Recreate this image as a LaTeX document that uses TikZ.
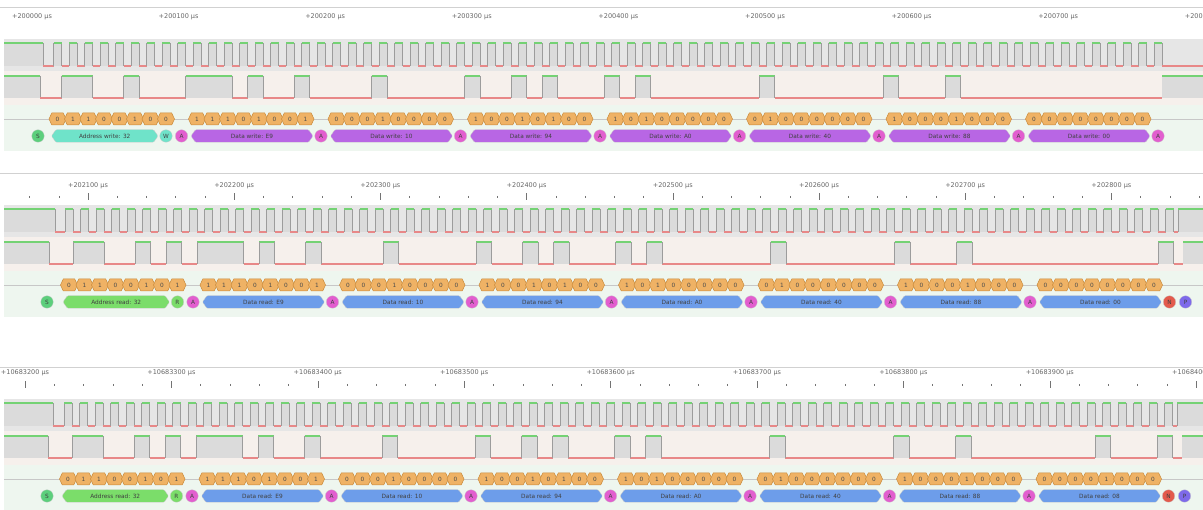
\documentclass[tikz,border=0pt]{standalone}
\usepackage{fontspec}
\setmainfont{DejaVu Sans}
\usetikzlibrary{shapes.symbols}

\definecolor{hiline}{HTML}{74D274}
\definecolor{loline}{HTML}{E88888}
\definecolor{flankline}{HTML}{9C9C9C}
\definecolor{clkband}{HTML}{E6E6E6}
\definecolor{datband}{HTML}{F6F0EC}
\definecolor{hifill}{HTML}{DBDBDB}
\definecolor{decband}{HTML}{EEF6EF}
\definecolor{bitfill}{HTML}{EFB265}
\definecolor{bitedge}{HTML}{C88A3C}
\definecolor{wraddr}{HTML}{6FE3C9}
\definecolor{rdaddr}{HTML}{7BDD6A}
\definecolor{wrdata}{HTML}{B866E4}
\definecolor{rddata}{HTML}{6D9DEA}
\definecolor{ackcol}{HTML}{E25ECF}
\definecolor{startcol}{HTML}{5CCF7C}
\definecolor{nakcol}{HTML}{E35A4C}
\definecolor{stopcol}{HTML}{7E6AEA}

\tikzset{
  hi/.style={hiline,line width=1.1pt},
  lo/.style={loline,line width=1.1pt},
  flank/.style={flankline,line width=0.6pt},
  rowline/.style={black!22,line width=0.6pt},
  sepline/.style={black!18,line width=0.8pt},
  tickline/.style={black!55,line width=0.5pt},
  stamp/.style={font=\fontsize{6.5}{7}\selectfont,text=black!60,inner sep=0pt},
  bit/.style={signal,signal to=east and west,signal pointer angle=130,
    fill=bitfill,draw=bitedge,line width=0.5pt,inner sep=0pt,
    minimum width=17pt,minimum height=12pt,
    font=\fontsize{5.8}{6}\selectfont,text=black!70},
  flag/.style={circle,inner sep=0pt,minimum size=12.5pt,draw=black!20,line width=0.3pt,
    font=\fontsize{5.8}{6}\selectfont,text=black!75},
  byteframe/.style={signal,signal to=east and west,signal pointer angle=110,
    inner sep=0pt,minimum height=12.5pt,rounded corners=1pt,draw=black!20,line width=0.3pt,
    font=\fontsize{5.8}{6}\selectfont,text=black!75},
  flagS/.style={fill=startcol},
  flagA/.style={fill=ackcol},
  flagN/.style={fill=nakcol},
  flagP/.style={fill=stopcol},
  flagW/.style={fill=wraddr},
  flagR/.style={fill=rdaddr}
}

% one capture: #1 name, #2 first bit centre, #3 SCL falls, #4 SDA falls, #5 SDA bits
\newcommand\busrow[5]{%
  \fill[clkband] (4,-4) rectangle (1203,28);
  \fill[datband] (4,28) rectangle (1203,62);
  \fill[decband] (4,62) rectangle (1203,108);
  \draw[rowline] (4,76) -- (1203,76);
  % SCL
  \fill[hifill] (4,0) rectangle (#3,23);
  \draw[hi] (4,0) -- (#3,0);
  \draw[flank] (#3,0) -- (#3,23);
  \draw[lo] (#3,23) -- ({#2-4},23);
  \foreach \k in {0,...,71}{
    \pgfmathsetmacro\xa{#2+15.5*\k-4}
    \pgfmathsetmacro\xb{#2+15.5*\k+4}
    \fill[hifill] (\xa,0) rectangle (\xb,23);
    \draw[flank] (\xa,23) -- (\xa,0) (\xb,0) -- (\xb,23);
    \draw[hi] (\xa,0) -- (\xb,0);
    \ifnum\k<71 \draw[lo] (\xb,23) -- ({\xb+7.5},23); \fi
  }
  % SDA and decoded bits
  \fill[hifill] (4,33) rectangle (#4,55);
  \draw[hi] (4,33) -- (#4,33);
  \draw[flank] (#4,33) -- (#4,55);
  \draw[lo] (#4,55) -- ({#2-11.5},55);
  \foreach \v [count=\k from 0, remember=\v as \prev (initially 0)] in {#5}{
    \pgfmathsetmacro\xa{#2+15.5*\k-11.5}
    \pgfmathsetmacro\xb{\xa+15.5}
    \ifnum\v=1
      \fill[hifill] (\xa,33) rectangle (\xb,55);
      \draw[hi] (\xa,33) -- (\xb,33);
    \else
      \draw[lo] (\xa,55) -- (\xb,55);
    \fi
    \ifnum\v=\prev\else \draw[flank] (\xa,33) -- (\xa,55); \fi
    \pgfmathtruncatemacro\pos{mod(\k,9)}
    \ifnum\pos<8
      \node[bit] (#1b\k) at ({#2+15.5*\k},76) {\v};
    \fi
  }
}

\begin{document}
\begin{tikzpicture}[x=1pt,y=-1pt]
\useasboundingbox (0,0) rectangle (1203,510);
\clip (0,0) rectangle (1203,510);

% write capture
\begin{scope}[shift={(0,43)}]
  \draw[sepline] (0,-36) -- (1203,-36);
  \foreach \i in {0,...,8}
    \node[stamp] (pt\i) at ({32+146.6*\i},-26) {+\the\numexpr2000+\i\relax00 µs};
  \busrow{p}{57.5}{43}{40}{0,1,1,0,0,1,0,0,0, 1,1,1,0,1,0,0,1,0, 0,0,0,1,0,0,0,0,0,
    1,0,0,1,0,1,0,0,0, 1,0,1,0,0,0,0,0,0, 0,1,0,0,0,0,0,0,0,
    1,0,0,0,1,0,0,0,0, 0,0,0,0,0,0,0,0,0}
  \draw[flank] (1162,33) -- (1162,55);
  \fill[hifill] (1162,33) rectangle (1203,55);
  \draw[hi] (1162,33) -- (1203,33);
  \draw[lo] (1162,23) -- (1203,23);
  \node[flag,flagS] (pS) at (38,93) {S};
  \node[byteframe,fill=wraddr,minimum width=106.5pt] (pAddr) at (104.75,93) {Address write: 32};
  \node[flag,flagW] (pW) at (166,93) {W};
  \node[flag,flagA] (pA0) at (181.5,93) {A};
  \foreach \d/\f [count=\j] in {E9/A,10/A,94/A,A0/A,40/A,88/A,00/A}{
    \pgfmathsetmacro\xs{57.5+139.5*\j}
    \node[byteframe,fill=wrdata,minimum width=122pt] (pD\j) at ({\xs+55},93) {Data write: \d};
    \node[flag,flag\f] (pA\j) at ({\xs+124},93) {\f};
  }
\end{scope}

% first read capture
\begin{scope}[shift={(0,209)}]
  \draw[sepline] (0,-36) -- (1203,-36);
  \foreach \i in {0,...,7}
    \node[stamp] (qt\i) at ({88+146.2*\i},-23) {+\the\numexpr2021+\i\relax00 µs};
  \foreach \m in {-2,...,38}{
    \pgfmathsetmacro\xt{88+29.24*\m}
    \pgfmathtruncatemacro\r{mod(\m+10,5)}
    \ifnum\r=0 \draw[tickline] (\xt,-15.5) -- (\xt,-9); \else \draw[tickline] (\xt,-13) -- (\xt,-11); \fi
  }
  \busrow{q}{69}{55}{49}{0,1,1,0,0,1,0,1,0, 1,1,1,0,1,0,0,1,0, 0,0,0,1,0,0,0,0,0,
    1,0,0,1,0,1,0,0,0, 1,0,1,0,0,0,0,0,0, 0,1,0,0,0,0,0,0,0,
    1,0,0,0,1,0,0,0,0, 0,0,0,0,0,0,0,0,1}
  \draw[flank] (1173.5,33) -- (1173.5,55) (1183,55) -- (1183,33);
  \draw[lo] (1173.5,55) -- (1183,55);
  \fill[hifill] (1183,33) rectangle (1203,55);
  \draw[hi] (1183,33) -- (1203,33);
  \draw[lo] (1173.5,23) -- (1178,23);
  \fill[hifill] (1178,0) rectangle (1203,23);
  \draw[flank] (1178,23) -- (1178,0);
  \draw[hi] (1178,0) -- (1203,0);
  \node[flag,flagS] (qS) at (47,93) {S};
  \node[byteframe,fill=rdaddr,minimum width=106.5pt] (qAddr) at (116.25,93) {Address read: 32};
  \node[flag,flagR] (qR) at (177.5,93) {R};
  \node[flag,flagA] (qA0) at (193,93) {A};
  \foreach \d/\f [count=\j] in {E9/A,10/A,94/A,A0/A,40/A,88/A,00/N}{
    \pgfmathsetmacro\xs{69+139.5*\j}
    \node[byteframe,fill=rddata,minimum width=122pt] (qD\j) at ({\xs+55},93) {Data read: \d};
    \node[flag,flag\f] (qA\j) at ({\xs+124},93) {\f};
  }
  \node[flag,flagP] (qP) at (1185.5,93) {P};
\end{scope}

% second read capture
\begin{scope}[shift={(0,403)}]
  \draw[sepline] (0,-36) -- (1203,-36);
  \foreach \i in {0,...,8}
    \node[stamp] (rt\i) at ({25+146.4*\i},-30) {+\the\numexpr106832+\i\relax00 µs};
  \foreach \m in {0,...,40}{
    \pgfmathsetmacro\xt{25+29.28*\m}
    \pgfmathtruncatemacro\r{mod(\m,5)}
    \ifnum\r=0 \draw[tickline] (\xt,-21.5) -- (\xt,-15); \else \draw[tickline] (\xt,-19) -- (\xt,-17); \fi
  }
  \busrow{r}{68}{53}{48}{0,1,1,0,0,1,0,1,0, 1,1,1,0,1,0,0,1,0, 0,0,0,1,0,0,0,0,0,
    1,0,0,1,0,1,0,0,0, 1,0,1,0,0,0,0,0,0, 0,1,0,0,0,0,0,0,0,
    1,0,0,0,1,0,0,0,0, 0,0,0,0,1,0,0,0,1}
  \draw[flank] (1172.5,33) -- (1172.5,55) (1182,55) -- (1182,33);
  \draw[lo] (1172.5,55) -- (1182,55);
  \fill[hifill] (1182,33) rectangle (1203,55);
  \draw[hi] (1182,33) -- (1203,33);
  \draw[lo] (1172.5,23) -- (1177,23);
  \fill[hifill] (1177,0) rectangle (1203,23);
  \draw[flank] (1177,23) -- (1177,0);
  \draw[hi] (1177,0) -- (1203,0);
  \node[flag,flagS] (rS) at (47,93) {S};
  \node[byteframe,fill=rdaddr,minimum width=106.5pt] (rAddr) at (115.25,93) {Address read: 32};
  \node[flag,flagR] (rR) at (176.5,93) {R};
  \node[flag,flagA] (rA0) at (192,93) {A};
  \foreach \d/\f [count=\j] in {E9/A,10/A,94/A,A0/A,40/A,88/A,08/N}{
    \pgfmathsetmacro\xs{68+139.5*\j}
    \node[byteframe,fill=rddata,minimum width=122pt] (rD\j) at ({\xs+55},93) {Data read: \d};
    \node[flag,flag\f] (rA\j) at ({\xs+124},93) {\f};
  }
  \node[flag,flagP] (rP) at (1184.5,93) {P};
\end{scope}
\end{tikzpicture}
\end{document}
